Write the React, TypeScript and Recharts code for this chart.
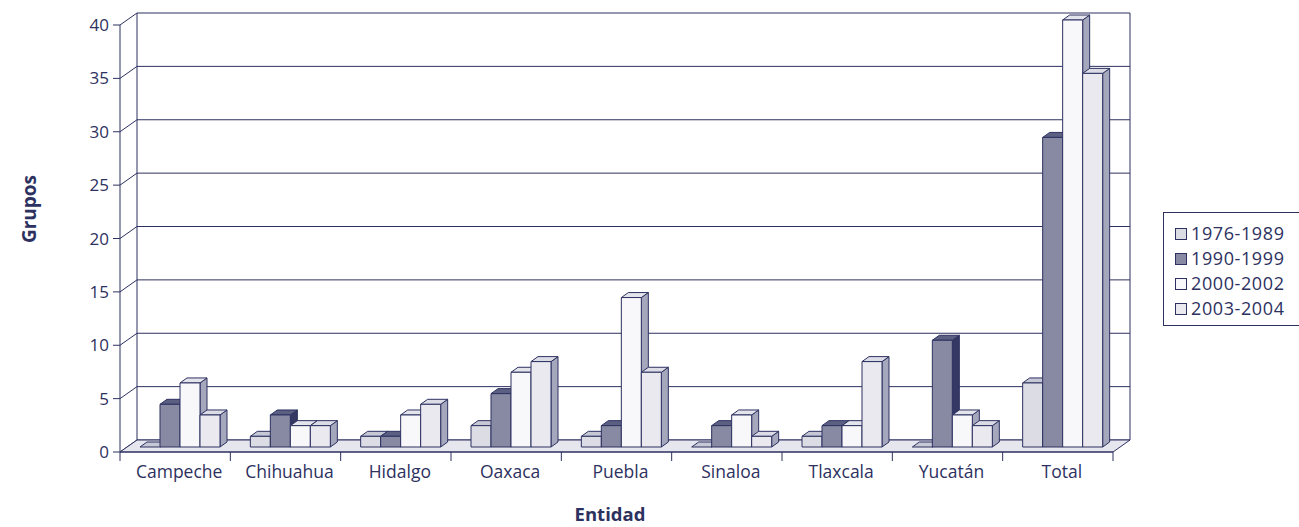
import React from "react";
import { BarChart, Bar, XAxis, YAxis } from "recharts";

const categories = ["Campeche", "Chihuahua", "Hidalgo", "Oaxaca", "Puebla", "Sinaloa", "Tlaxcala", "Yucatán", "Total"];
const periodos = ["1976-1989", "1990-1999", "2000-2002", "2003-2004"];
const s1976 = [0, 1, 1, 2, 1, 0, 1, 0, 6];
const s1990 = [4, 3, 1, 5, 2, 2, 2, 10, 29];
const s2000 = [6, 2, 3, 7, 14, 3, 2, 3, 40];
const s2003 = [3, 2, 4, 8, 7, 1, 8, 2, 35];
const yTicks = [0, 5, 10, 15, 20, 25, 30, 35, 40];

const data = categories.map((name, i) => ({
  name,
  a: s1976[i],
  b: s1990[i],
  c: s2000[i],
  d: s2003[i],
}));

const INK = "#2d3160";
const FONT = "'Open Sans', 'Noto Sans', sans-serif";

// chart box and plot area (front plane)
const W = 1299;
const H = 527;
const PLOT = { left: 120, top: 25, right: 1113, bottom: 452 };
const PW = PLOT.right - PLOT.left;
const PH = PLOT.bottom - PLOT.top;
const Y_AXIS_W = 120;
const X_AXIS_H = 30;
const Y_MAX = 40;
// depth of the back wall
const DX = 17;
const DY = 12;

// face colours: front, top, side
const faces = [
  { front: "#dcdce5", top: "#c7c8d6", side: "#a0a2b9" },
  { front: "#878aa2", top: "#5b5f82", side: "#343863" },
  { front: "#f8f8fa", top: "#e4e4ec", side: "#a5a7bc" },
  { front: "#e9e9ef", top: "#dcdce6", side: "#a5a7bc" },
];

const yPos = (v: number) => PLOT.top + PH * (1 - v / Y_MAX);

// walls, floor, gridlines and titles behind the bars
const Walls = () => {
  const back = { l: PLOT.left + DX, r: PLOT.right + DX };
  const band = PW / categories.length;
  return (
    <g>
      <rect x={back.l} y={yPos(Y_MAX) - DY} width={PW} height={PH} fill="#fff" stroke="none" />
      {yTicks.map((t) => (
        <g key={t}>
          <line x1={back.l} x2={back.r} y1={yPos(t) - DY} y2={yPos(t) - DY} stroke={INK} strokeWidth={1} />
          <line x1={PLOT.left} x2={back.l} y1={yPos(t)} y2={yPos(t) - DY} stroke={INK} strokeWidth={1} />
        </g>
      ))}
      <line x1={back.l} x2={back.l} y1={yPos(Y_MAX) - DY} y2={yPos(0) - DY} stroke={INK} />
      <line x1={back.r} x2={back.r} y1={yPos(Y_MAX) - DY} y2={yPos(0) - DY} stroke={INK} />
      <polygon
        points={`${PLOT.left},${yPos(0)} ${PLOT.right},${yPos(0)} ${back.r},${yPos(0) - DY} ${back.l},${yPos(0) - DY}`}
        fill="#e6e6ee"
        stroke={INK}
        strokeWidth={1}
      />
      {categories.concat([""]).map((_, i) => (
        <line
          key={i}
          x1={PLOT.left + i * band}
          x2={PLOT.left + i * band}
          y1={yPos(0)}
          y2={yPos(0) + 9}
          stroke={INK}
        />
      ))}
      <text
        x={29}
        y={209}
        transform="rotate(-90 29 209)"
        textAnchor="middle"
        dominantBaseline="central"
        fontFamily={FONT}
        fontWeight={700}
        fontSize={19}
        fill={INK}
      >
        Grupos
      </text>
      <text x={610} y={513} textAnchor="middle" dominantBaseline="central" fontFamily={FONT} fontWeight={700} fontSize={18.5} fill={INK}>
        Entidad
      </text>
    </g>
  );
};

// extruded bar: front face, top and right side
const make3D = (k: number) => (props: any) => {
  const { x, y, width, height } = props;
  const f = faces[k];
  const fx = Number(x) + 5;
  const fy = Number(y) - 5;
  const w = Number(width);
  const h = Math.max(0, Number(height));
  const d = 7;
  const dd = 5;
  return (
    <g stroke={INK} strokeWidth={1} strokeLinejoin="round">
      <polygon
        points={`${fx + w},${fy} ${fx + w + d},${fy - dd} ${fx + w + d},${fy + h - dd} ${fx + w},${fy + h}`}
        fill={f.side}
      />
      <polygon points={`${fx},${fy} ${fx + d},${fy - dd} ${fx + w + d},${fy - dd} ${fx + w},${fy}`} fill={f.top} />
      {h > 0 && <rect x={fx} y={fy} width={w} height={h} fill={f.front} />}
    </g>
  );
};

const LegendBox = () => (
  <div
    style={{
      position: "absolute",
      left: 1163,
      top: 212,
      width: 150,
      height: 114,
      boxSizing: "border-box",
      border: `1px solid ${INK}`,
      padding: "8px 0 0 11px",
      fontFamily: FONT,
      fontSize: 18,
      letterSpacing: 0.6,
      lineHeight: "25px",
      color: INK,
      background: "#fff",
    }}
  >
    {periodos.map((p, i) => (
      <div key={p} style={{ display: "flex", alignItems: "center", height: 25 }}>
        <span
          style={{
            display: "inline-block",
            width: 10,
            height: 10,
            border: `1px solid ${INK}`,
            background: faces[i].front,
            marginRight: 4,
          }}
        />
        {p}
      </div>
    ))}
  </div>
);

const CategoryTick = (props: any) => {
  const { x, y, payload } = props;
  return (
    <text x={x + 4} y={y + 18} textAnchor="middle" fontFamily={FONT} fontSize={17.5} fill={INK}>
      {payload.value}
    </text>
  );
};

export default function App() {
  return (
    <div style={{ position: "absolute", left: 0, top: 0, width: W, height: H, background: "#fff" }}>
      <BarChart
        width={W}
        height={H}
        data={data}
        margin={{
          top: PLOT.top,
          right: W - PLOT.right,
          bottom: H - PLOT.bottom - X_AXIS_H,
          left: PLOT.left - Y_AXIS_W,
        }}
        barSize={20}
        barGap={0}
      >
        <Walls />
        <XAxis
          dataKey="name"
          height={X_AXIS_H}
          tick={<CategoryTick />}
          tickLine={false}
          axisLine={{ stroke: INK }}
          interval={0}
        />
        <YAxis
          domain={[0, Y_MAX]}
          ticks={yTicks}
          interval={0}
          width={Y_AXIS_W}
          tickSize={7}
          tickMargin={4}
          tickLine={{ stroke: INK }}
          axisLine={{ stroke: INK }}
          tick={{ fill: INK, fontFamily: FONT, fontSize: 17 }}
        />
        <Bar dataKey="a" name={periodos[0]} shape={make3D(0)} isAnimationActive={false} />
        <Bar dataKey="b" name={periodos[1]} shape={make3D(1)} isAnimationActive={false} />
        <Bar dataKey="c" name={periodos[2]} shape={make3D(2)} isAnimationActive={false} />
        <Bar dataKey="d" name={periodos[3]} shape={make3D(3)} isAnimationActive={false} />
      </BarChart>
      <LegendBox />
    </div>
  );
}
